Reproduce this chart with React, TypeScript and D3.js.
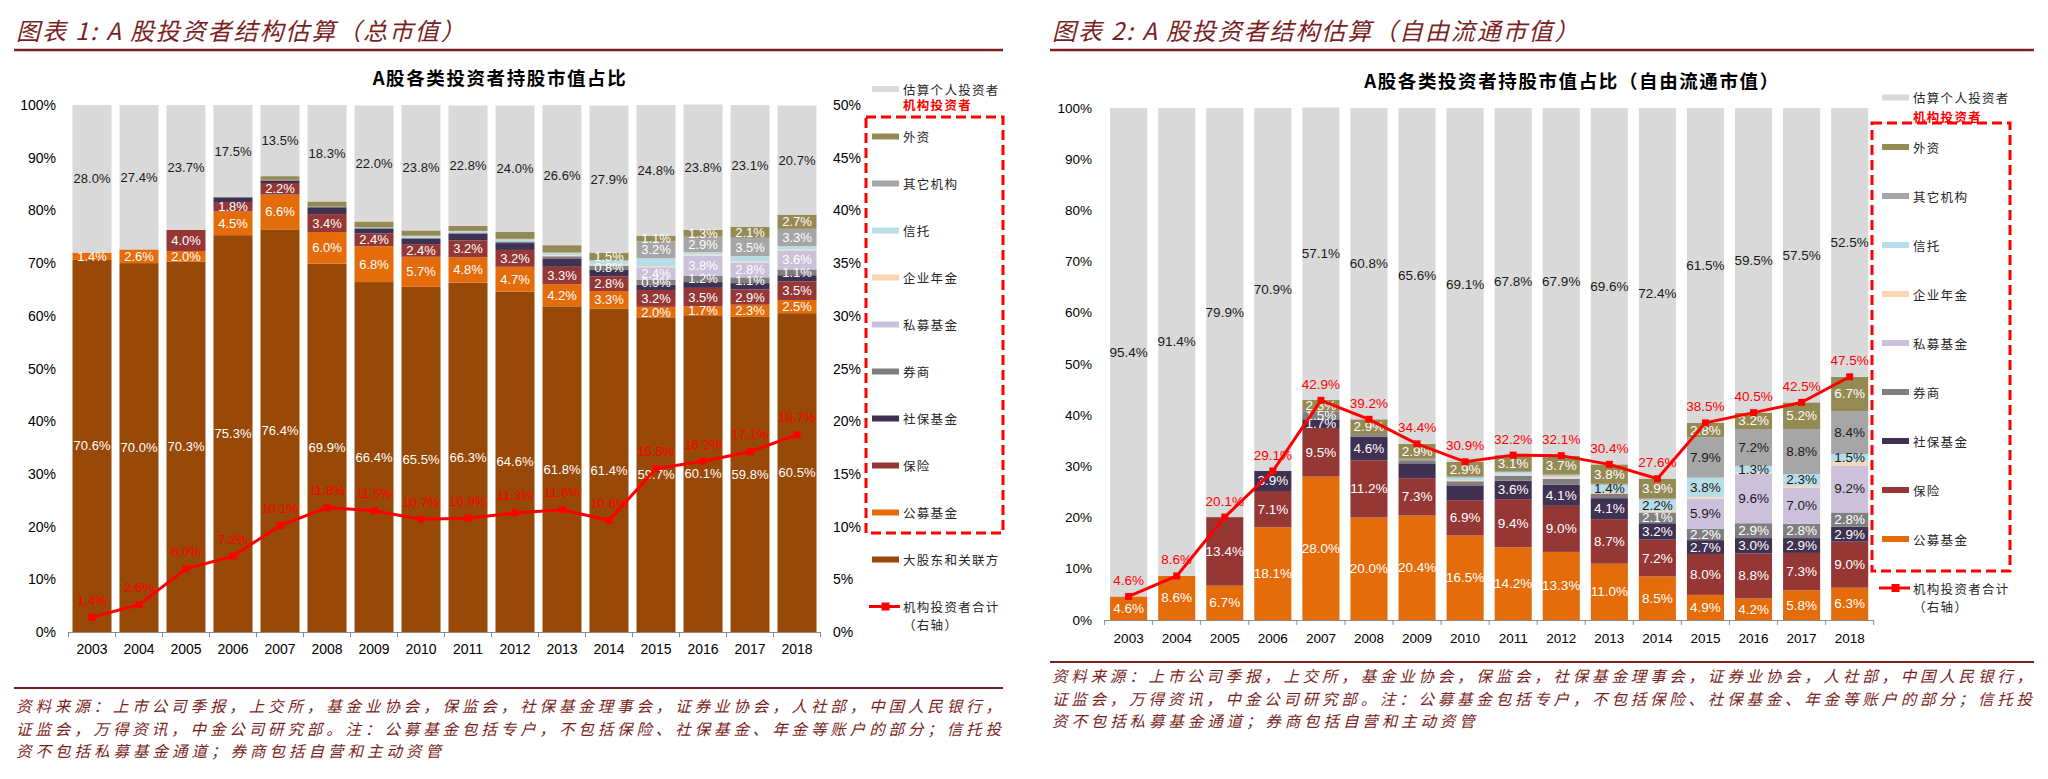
import React from "react";
import * as d3 from "d3";

// ---------------- DATA ----------------
const YEARS = ["2003","2004","2005","2006","2007","2008","2009","2010","2011","2012","2013","2014","2015","2016","2017","2018"];

const SERIES_NAMES = ["大股东和关联方","公募基金","保险","社保基金","券商","私募基金","企业年金","信托","其它机构","外资","估算个人投资者"];

// Chart 1: total market value (%)
const L_MAJOR = [70.6,70.0,70.3,75.3,76.4,69.9,66.4,65.5,66.3,64.6,61.8,61.4,59.7,60.1,59.8,60.5];
const L_FUND = [1.4,2.6,2.0,4.5,6.6,6.0,6.8,5.7,4.8,4.7,4.2,3.3,2.0,1.7,2.3,2.5];
const L_INS = [0,0,4.0,1.8,2.2,3.4,2.4,2.4,3.2,3.2,3.3,2.8,3.2,3.5,2.9,3.5];
const L_SSF = [0,0,0,0.9,0.5,1.3,1.0,1.0,1.3,1.3,1.6,1.2,1.0,1.1,1.2,1.2];
const L_BROKER = [0,0,0,0,0,0,0,0.2,0.2,0.3,0.4,0.8,0.9,1.2,1.1,1.1];
const L_PE = [0,0,0,0,0,0,0,0,0,0,0,0,2.4,3.8,2.8,3.6];
const L_ANNUITY = [0,0,0,0,0,0,0,0,0,0,0.2,0.2,0.2,0.2,0.2,0.2];
const L_TRUST = [0,0,0,0,0,0,0.1,0.3,0.3,0.4,0.5,0.8,1.5,0.5,1.0,0.6];
const L_OTHER = [0,0,0,0,0.1,0.1,0.1,0.1,0,0.1,0,0,3.2,2.9,3.5,3.3];
const L_FOREIGN = [0,0,0,0,0.7,1.0,1.1,1.0,1.0,1.3,1.4,1.5,1.1,1.3,2.1,2.7];
const L_RETAIL = [28.0,27.4,23.7,17.5,13.5,18.3,22.0,23.8,22.8,24.0,26.6,27.9,24.8,23.8,23.1,20.7];
const L_INST_TOTAL = [1.4,2.6,6.0,7.2,10.1,11.8,11.5,10.7,10.8,11.3,11.6,10.6,15.5,16.2,17.1,18.7];

// Chart 2: free-float market value (%)
const R_FUND = [4.6,8.6,6.7,18.1,28.0,20.0,20.4,16.5,14.2,13.3,11.0,8.5,4.9,4.2,5.8,6.3];
const R_INS = [0,0,13.4,7.1,9.5,11.2,7.3,6.9,9.4,9.0,8.7,7.2,8.0,8.8,7.3,9.0];
const R_SSF = [0,0,0,3.9,1.7,4.6,2.9,2.9,3.6,4.1,4.1,3.2,2.7,3.0,2.9,2.9];
const R_BROKER = [0,0,0,0,1.5,0.5,0.6,0.8,1.0,1.2,0.9,2.1,2.2,2.9,2.8,2.8];
const R_PE = [0,0,0,0,0,0,0,0,0,0,0,0,5.9,9.6,7.0,9.2];
const R_ANNUITY = [0,0,0,0,0,0,0,0.2,0.2,0.3,0.3,0.3,0.3,0.3,0.4,0.7];
const R_TRUST = [0,0,0,0,0,0,0,0.5,0.5,0.3,1.4,2.2,3.8,1.3,2.3,1.5];
const R_OTHER = [0,0,0,0,0,0,0.3,0.2,0.2,0.2,0.2,0.2,7.9,7.2,8.8,8.4];
const R_FOREIGN = [0,0,0,0,2.3,2.9,2.9,2.9,3.1,3.7,3.8,3.9,2.8,3.2,5.2,6.7];
const R_RETAIL = [95.4,91.4,79.9,70.9,57.1,60.8,65.6,69.1,67.8,67.9,69.6,72.4,61.5,59.5,57.5,52.5];
const R_INST_TOTAL = [4.6,8.6,20.1,29.1,42.9,39.2,34.4,30.9,32.2,32.1,30.4,27.6,38.5,40.5,42.5,47.5];

// years whose segment carries a value label
const ALL_YEARS = YEARS;
const yearsFrom = (y: string) => YEARS.filter((v) => v >= y);
const L_LABEL_YEARS: Record<string, string[]> = {
  "大股东和关联方": ALL_YEARS, "公募基金": ALL_YEARS, "保险": yearsFrom("2005"),
  "券商": yearsFrom("2014"), "私募基金": yearsFrom("2015"), "其它机构": yearsFrom("2015"),
  "外资": yearsFrom("2014"), "估算个人投资者": ALL_YEARS,
};
const R_LABEL_YEARS: Record<string, string[]> = {
  "公募基金": ALL_YEARS, "保险": yearsFrom("2005"),
  "社保基金": ["2006","2007","2008","2011","2012","2013","2014","2015","2016","2017","2018"],
  "券商": ["2007","2014","2015","2016","2017","2018"],
  "私募基金": yearsFrom("2015"), "信托": yearsFrom("2013"), "其它机构": yearsFrom("2015"),
  "外资": yearsFrom("2007"), "估算个人投资者": ALL_YEARS,
};

const Y_TICKS_LEFT = [0,10,20,30,40,50,60,70,80,90,100];
const Y_TICKS_RIGHT = [0,5,10,15,20,25,30,35,40,45,50];

const LEGEND_BOX_ITEMS = ["外资","其它机构","信托","企业年金","私募基金","券商","社保基金","保险","公募基金"];

const PAGE_TITLE_1 = "图表 1: A 股投资者结构估算（总市值）";
const PAGE_TITLE_2 = "图表 2: A 股投资者结构估算（自由流通市值）";
const CHART_TITLE_1 = "A股各类投资者持股市值占比";
const CHART_TITLE_2 = "A股各类投资者持股市值占比（自由流通市值）";
const FOOTER = [
  "资料来源：上市公司季报，上交所，基金业协会，保监会，社保基金理事会，证券业协会，人社部，中国人民银行，",
  "证监会，万得资讯，中金公司研究部。注：公募基金包括专户，不包括保险、社保基金、年金等账户的部分；信托投",
  "资不包括私募基金通道；券商包括自营和主动资管",
];

// ---------------- STYLE ----------------
const COLORS: Record<string, string> = {
  "大股东和关联方": "#984807", "公募基金": "#E46C0A", "保险": "#953735", "社保基金": "#3F3151",
  "券商": "#7F7F7F", "私募基金": "#CCC1DA", "企业年金": "#FCD5B5", "信托": "#B7DEE8",
  "其它机构": "#A6A6A6", "外资": "#948A54", "估算个人投资者": "#D9D9D9",
};
const DARK = "#1a1a1a";
const BRAND = "#7B1F23";
const NUM_FONT = "'Liberation Sans', Arial, sans-serif";
const CJK_FONT = "'Noto Sans CJK SC', 'Noto Sans', sans-serif";

type ChartCfg = {
  values: Record<string, number[]>;
  total: number[];
  labelYears: Record<string, string[]>;
  darkLabels: string[];
  x0: number; x1: number; pi: number; po: number;
  yBottom: number; yTop: number;
  lineMax: number;
  rightAxis: boolean;
  leftLabelX: number; rightLabelX: number;
  yearY: number;
  numSize: number; axisSize: number;
  lineLabelDy: number;
};

function StackChart({ c }: { c: ChartCfg }) {
  const keys = SERIES_NAMES.filter((k) => c.values[k]);
  const rows = YEARS.map((yr, i) => {
    const r: any = { year: yr };
    keys.forEach((k) => (r[k] = c.values[k][i]));
    return r;
  });
  const stacked = d3.stack<any>().keys(keys)(rows);
  const x = d3.scaleBand<string>().domain(YEARS).range([c.x0, c.x1]).paddingInner(c.pi).paddingOuter(c.po);
  const y = d3.scaleLinear().domain([0, 100]).range([c.yBottom, c.yTop]);
  const yL = d3.scaleLinear().domain([0, c.lineMax]).range([c.yBottom, c.yTop]);
  const bw = x.bandwidth();
  const cx = (yr: string) => (x(yr) as number) + bw / 2;
  const line = d3.line<number>().x((_, i) => cx(YEARS[i])).y((v) => yL(v));
  const step = x.step();
  const start = (x(YEARS[0]) as number) - (step - bw) / 2;

  return (
    <g>
      {stacked.map((s) => (
        <g key={s.key}>
          {s.map((d, i) =>
            d[1] - d[0] > 0 ? (
              <rect key={i} x={x(YEARS[i])} y={y(d[1])} width={bw} height={y(d[0]) - y(d[1])} fill={COLORS[s.key]} />
            ) : null
          )}
        </g>
      ))}
      {stacked.map((s) => (
        <g key={"l" + s.key}>
          {s.map((d, i) => {
            const yr = YEARS[i];
            const lbl = c.labelYears[s.key];
            if (!lbl || !lbl.includes(yr)) return null;
            const v = d[1] - d[0];
            const dark = s.key === "估算个人投资者" || c.darkLabels.includes(s.key);
            return (
              <text key={i} x={cx(yr)} y={(y(d[0]) + y(d[1])) / 2} textAnchor="middle" dominantBaseline="central"
                fontFamily={NUM_FONT} fontSize={c.numSize} fill={dark ? DARK : "#ffffff"}>
                {v.toFixed(1)}%
              </text>
            );
          })}
        </g>
      ))}
      {/* x axis */}
      <line x1={start} x2={start + step * YEARS.length} y1={c.yBottom + 0.5} y2={c.yBottom + 0.5} stroke="#8c8c8c" strokeWidth={1} />
      {d3.range(YEARS.length + 1).map((i) => (
        <line key={i} x1={start + i * step} x2={start + i * step} y1={c.yBottom} y2={c.yBottom + 5} stroke="#8c8c8c" strokeWidth={1} />
      ))}
      {YEARS.map((yr) => (
        <text key={yr} x={cx(yr)} y={c.yearY} textAnchor="middle" dominantBaseline="central" fontFamily={NUM_FONT} fontSize={c.axisSize} fill="#000">
          {yr}
        </text>
      ))}
      {Y_TICKS_LEFT.map((t) => (
        <text key={t} x={c.leftLabelX} y={y(t)} textAnchor="end" dominantBaseline="central" fontFamily={NUM_FONT} fontSize={c.axisSize} fill="#000">
          {t}%
        </text>
      ))}
      {c.rightAxis &&
        Y_TICKS_RIGHT.map((t) => (
          <text key={t} x={c.rightLabelX} y={yL(t)} textAnchor="start" dominantBaseline="central" fontFamily={NUM_FONT} fontSize={c.axisSize} fill="#000">
            {t}%
          </text>
        ))}
      {/* total line */}
      <path d={line(c.total) as string} fill="none" stroke="#FF0000" strokeWidth={3} />
      {c.total.map((v, i) => (
        <rect key={i} x={cx(YEARS[i]) - 3.5} y={yL(v) - 3.5} width={7} height={7} fill="#FF0000" />
      ))}
      {c.total.map((v, i) => (
        <text key={"t" + i} x={cx(YEARS[i])} y={yL(v) - c.lineLabelDy} textAnchor="middle" dominantBaseline="central"
          fontFamily={NUM_FONT} fontSize={c.numSize} fill="#FF0000">
          {v.toFixed(1)}%
        </text>
      ))}
    </g>
  );
}

function Legend({ x, y0, y1, yStart, step, box, major }: { x: number; y0: number; y1: number; yStart: number; step: number; box: [number, number, number, number]; major: boolean }) {
  const sw = 27;
  const tx = x + sw + 4;
  const txt = (t: string, yy: number, fill = "#262626", weight = 400) => (
    <text x={tx} y={yy} dominantBaseline="central" fontFamily={CJK_FONT} fontSize={12.5} letterSpacing={1.3} fill={fill} fontWeight={weight}>
      {t}
    </text>
  );
  const items = [...LEGEND_BOX_ITEMS];
  const rows: any[] = [];
  items.forEach((k, i) => {
    const yy = yStart + i * step;
    rows.push(
      <g key={k}>
        <rect x={x} y={yy - 3} width={sw} height={6} fill={COLORS[k]} />
        {txt(k, yy)}
      </g>
    );
  });
  let next = yStart + items.length * step;
  if (major) {
    rows.push(
      <g key="major">
        <rect x={x} y={next - 3} width={sw} height={6} fill={COLORS["大股东和关联方"]} />
        {txt("大股东和关联方", next)}
      </g>
    );
    next += step;
  }
  return (
    <g>
      <rect x={x} y={y0 - 3} width={sw} height={6} fill={COLORS["估算个人投资者"]} />
      {txt("估算个人投资者", y0)}
      {txt("机构投资者", y1, "#FF0000", 700)}
      <rect x={box[0]} y={box[1]} width={box[2] - box[0]} height={box[3] - box[1]} fill="none" stroke="#FF0000" strokeWidth={3} strokeDasharray="10,5" />
      {rows}
      <line x1={x - 3} x2={x + sw + 1} y1={next} y2={next} stroke="#FF0000" strokeWidth={3} />
      <rect x={x + sw / 2 - 4} y={next - 4} width={8} height={8} fill="#FF0000" />
      {txt("机构投资者合计", next)}
      {txt("（右轴）", next + 18)}
    </g>
  );
}

function Frame({ x0, x1, title, ruleTop, ruleBottom, footY, footStep }: { x0: number; x1: number; title: string; ruleTop: number; ruleBottom: number; footY: number; footStep: number }) {
  const w = x1 - x0;
  return (
    <g>
      <text x={x0 + 2} y={29} dominantBaseline="central" fontFamily={CJK_FONT} fontStyle="italic" fontSize={24} letterSpacing={1.9} fill={BRAND}>
        {title}
      </text>
      <line x1={x0} x2={x1} y1={ruleTop} y2={ruleTop} stroke={BRAND} strokeWidth={2.5} />
      <line x1={x0} x2={x1} y1={ruleBottom} y2={ruleBottom} stroke={BRAND} strokeWidth={2} />
      {FOOTER.map((t, i) => (
        <text key={i} x={x0 + 2} y={footY + i * footStep} dominantBaseline="central" fontFamily={CJK_FONT} fontStyle="italic" fontSize={15.5}
          fill={BRAND} textLength={i < 2 ? w - 4 : (w - 4) * (22 / 51)} lengthAdjust="spacing">
          {t}
        </text>
      ))}
    </g>
  );
}

export default function App() {
  const left: ChartCfg = {
    values: {
      "大股东和关联方": L_MAJOR, "公募基金": L_FUND, "保险": L_INS, "社保基金": L_SSF, "券商": L_BROKER,
      "私募基金": L_PE, "企业年金": L_ANNUITY, "信托": L_TRUST, "其它机构": L_OTHER, "外资": L_FOREIGN, "估算个人投资者": L_RETAIL,
    },
    total: L_INST_TOTAL,
    labelYears: L_LABEL_YEARS,
    darkLabels: [],
    x0: 68.5, x1: 820.5, pi: 8 / 47, po: 4 / 47,
    yBottom: 632, yTop: 105, lineMax: 50, rightAxis: true,
    leftLabelX: 56, rightLabelX: 833, yearY: 649,
    numSize: 13, axisSize: 14, lineLabelDy: 17,
  };
  const right: ChartCfg = {
    values: {
      "公募基金": R_FUND, "保险": R_INS, "社保基金": R_SSF, "券商": R_BROKER, "私募基金": R_PE,
      "企业年金": R_ANNUITY, "信托": R_TRUST, "其它机构": R_OTHER, "外资": R_FOREIGN, "估算个人投资者": R_RETAIL,
    },
    total: R_INST_TOTAL,
    labelYears: R_LABEL_YEARS,
    darkLabels: ["私募基金", "信托", "其它机构"],
    x0: 1104.6, x1: 1873.7, pi: 11 / 48.07, po: 5.5 / 48.07,
    yBottom: 620, yTop: 108, lineMax: 100, rightAxis: false,
    leftLabelX: 1092, rightLabelX: 0, yearY: 638,
    numSize: 13.5, axisSize: 13.5, lineLabelDy: 16,
  };
  return (
    <svg width={2048} height={779} style={{ position: "absolute", left: 0, top: 0, background: "#fff" }}>
      <rect width={2048} height={779} fill="#fff" />
      <Frame x0={14} x1={1003} title={PAGE_TITLE_1} ruleTop={50} ruleBottom={688} footY={705} footStep={22.5} />
      <Frame x0={1050} x1={2034} title={PAGE_TITLE_2} ruleTop={50} ruleBottom={662} footY={675} footStep={22.5} />
      <text x={500} y={77} textAnchor="middle" dominantBaseline="central" fontFamily={CJK_FONT} fontWeight={700} fontSize={18.5} letterSpacing={1.6} fill="#000">
        {CHART_TITLE_1}
      </text>
      <text x={1572} y={80} textAnchor="middle" dominantBaseline="central" fontFamily={CJK_FONT} fontWeight={700} fontSize={18.5} letterSpacing={1.6} fill="#000">
        {CHART_TITLE_2}
      </text>
      <StackChart c={left} />
      <StackChart c={right} />
      <Legend x={872} y0={89} y1={104.5} yStart={136.5} step={47} box={[866, 117, 1003, 533]} major={true} />
      <Legend x={1882} y0={97.5} y1={116} yStart={147} step={49} box={[1872, 123, 2010, 571]} major={false} />
    </svg>
  );
}
